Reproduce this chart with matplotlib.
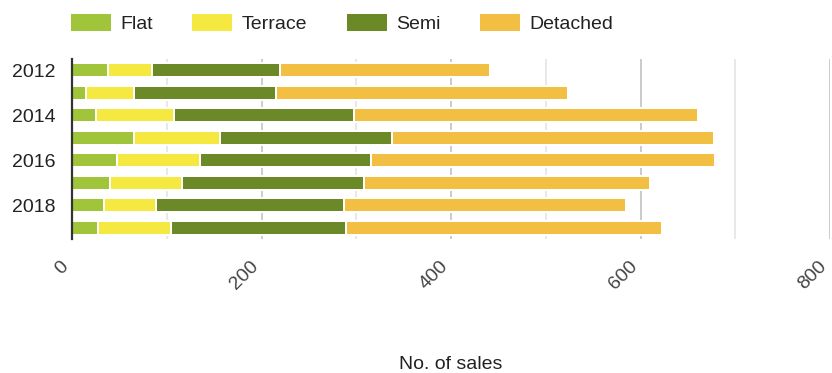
import matplotlib
matplotlib.use("Agg")
import matplotlib.pyplot as plt
from matplotlib.ticker import MultipleLocator

plt.rcParams["font.family"] = ["Liberation Sans", "DejaVu Sans"]

years = [2012, 2013, 2014, 2015, 2016, 2017, 2018, 2019]
year_labels = ["2012", "", "2014", "", "2016", "", "2018", ""]

flat = [38, 15, 25, 65, 48, 40, 34, 27]
terrace = [46, 50, 83, 91, 87, 76, 55, 78]
semi = [135, 150, 190, 182, 181, 192, 198, 184]
detached = [222, 308, 363, 340, 363, 302, 298, 334]

series = [
    ("Flat", flat, "#a0c53a"),
    ("Terrace", terrace, "#f4e841"),
    ("Semi", semi, "#6b8a27"),
    ("Detached", detached, "#f2bf42"),
]

x_ticks = [0, 200, 400, 600, 800]


def main():
    fig = plt.figure(figsize=(8.32, 3.73), dpi=100)
    ax = fig.add_axes([72 / 832, 1 - 239 / 373, 758 / 832, 180 / 373])

    pos = list(range(len(years)))
    left = [0] * len(years)
    handles = []
    for name, vals, color in series:
        bars = ax.barh(pos, vals, left=left, height=0.62, color=color,
                       edgecolor="white", linewidth=1.44, label=name, zorder=3)
        handles.append(bars)
        left = [a + b for a, b in zip(left, vals)]

    ax.set_xlim(0, 800)
    ax.set_ylim(len(years) - 0.5, -0.5)

    ax.set_yticks(pos)
    ax.set_yticklabels(year_labels)
    ax.tick_params(axis="y", length=0, pad=12, labelsize=14, labelcolor="#222222")

    ax.set_xticks(x_ticks)
    ax.xaxis.set_minor_locator(MultipleLocator(100))
    ax.tick_params(axis="x", which="both", length=0, pad=13.5, labelsize=14,
                   labelcolor="#444444")
    for lab in ax.get_xticklabels():
        lab.set_rotation(45)
        lab.set_ha("right")
        lab.set_va("top")

    ax.grid(axis="x", which="major", color="#cccccc", linewidth=1.44, zorder=0)
    ax.grid(axis="x", which="minor", color="#e8e8e8", linewidth=1.44, zorder=0)
    ax.set_axisbelow(True)

    for side in ["top", "right", "bottom"]:
        ax.spines[side].set_visible(False)
    ax.spines["left"].set_color("#333333")
    ax.spines["left"].set_linewidth(1.6)
    ax.spines["left"].set_zorder(4)

    ax.set_xlabel("No. of sales", fontsize=14, color="#222222")
    ax.xaxis.set_label_coords(0.5, -0.65)

    fig.legend(handles=handles, loc="center left",
               bbox_to_anchor=(70 / 832, 1 - 22.7 / 373), ncol=4, frameon=False,
               fontsize=14, handlelength=2.16, handleheight=1.13,
               handletextpad=0.41, columnspacing=2.0, borderpad=0,
               borderaxespad=0, labelcolor="#222222")

    fig.savefig("out.png", dpi=100)


if __name__ == "__main__":
    main()
